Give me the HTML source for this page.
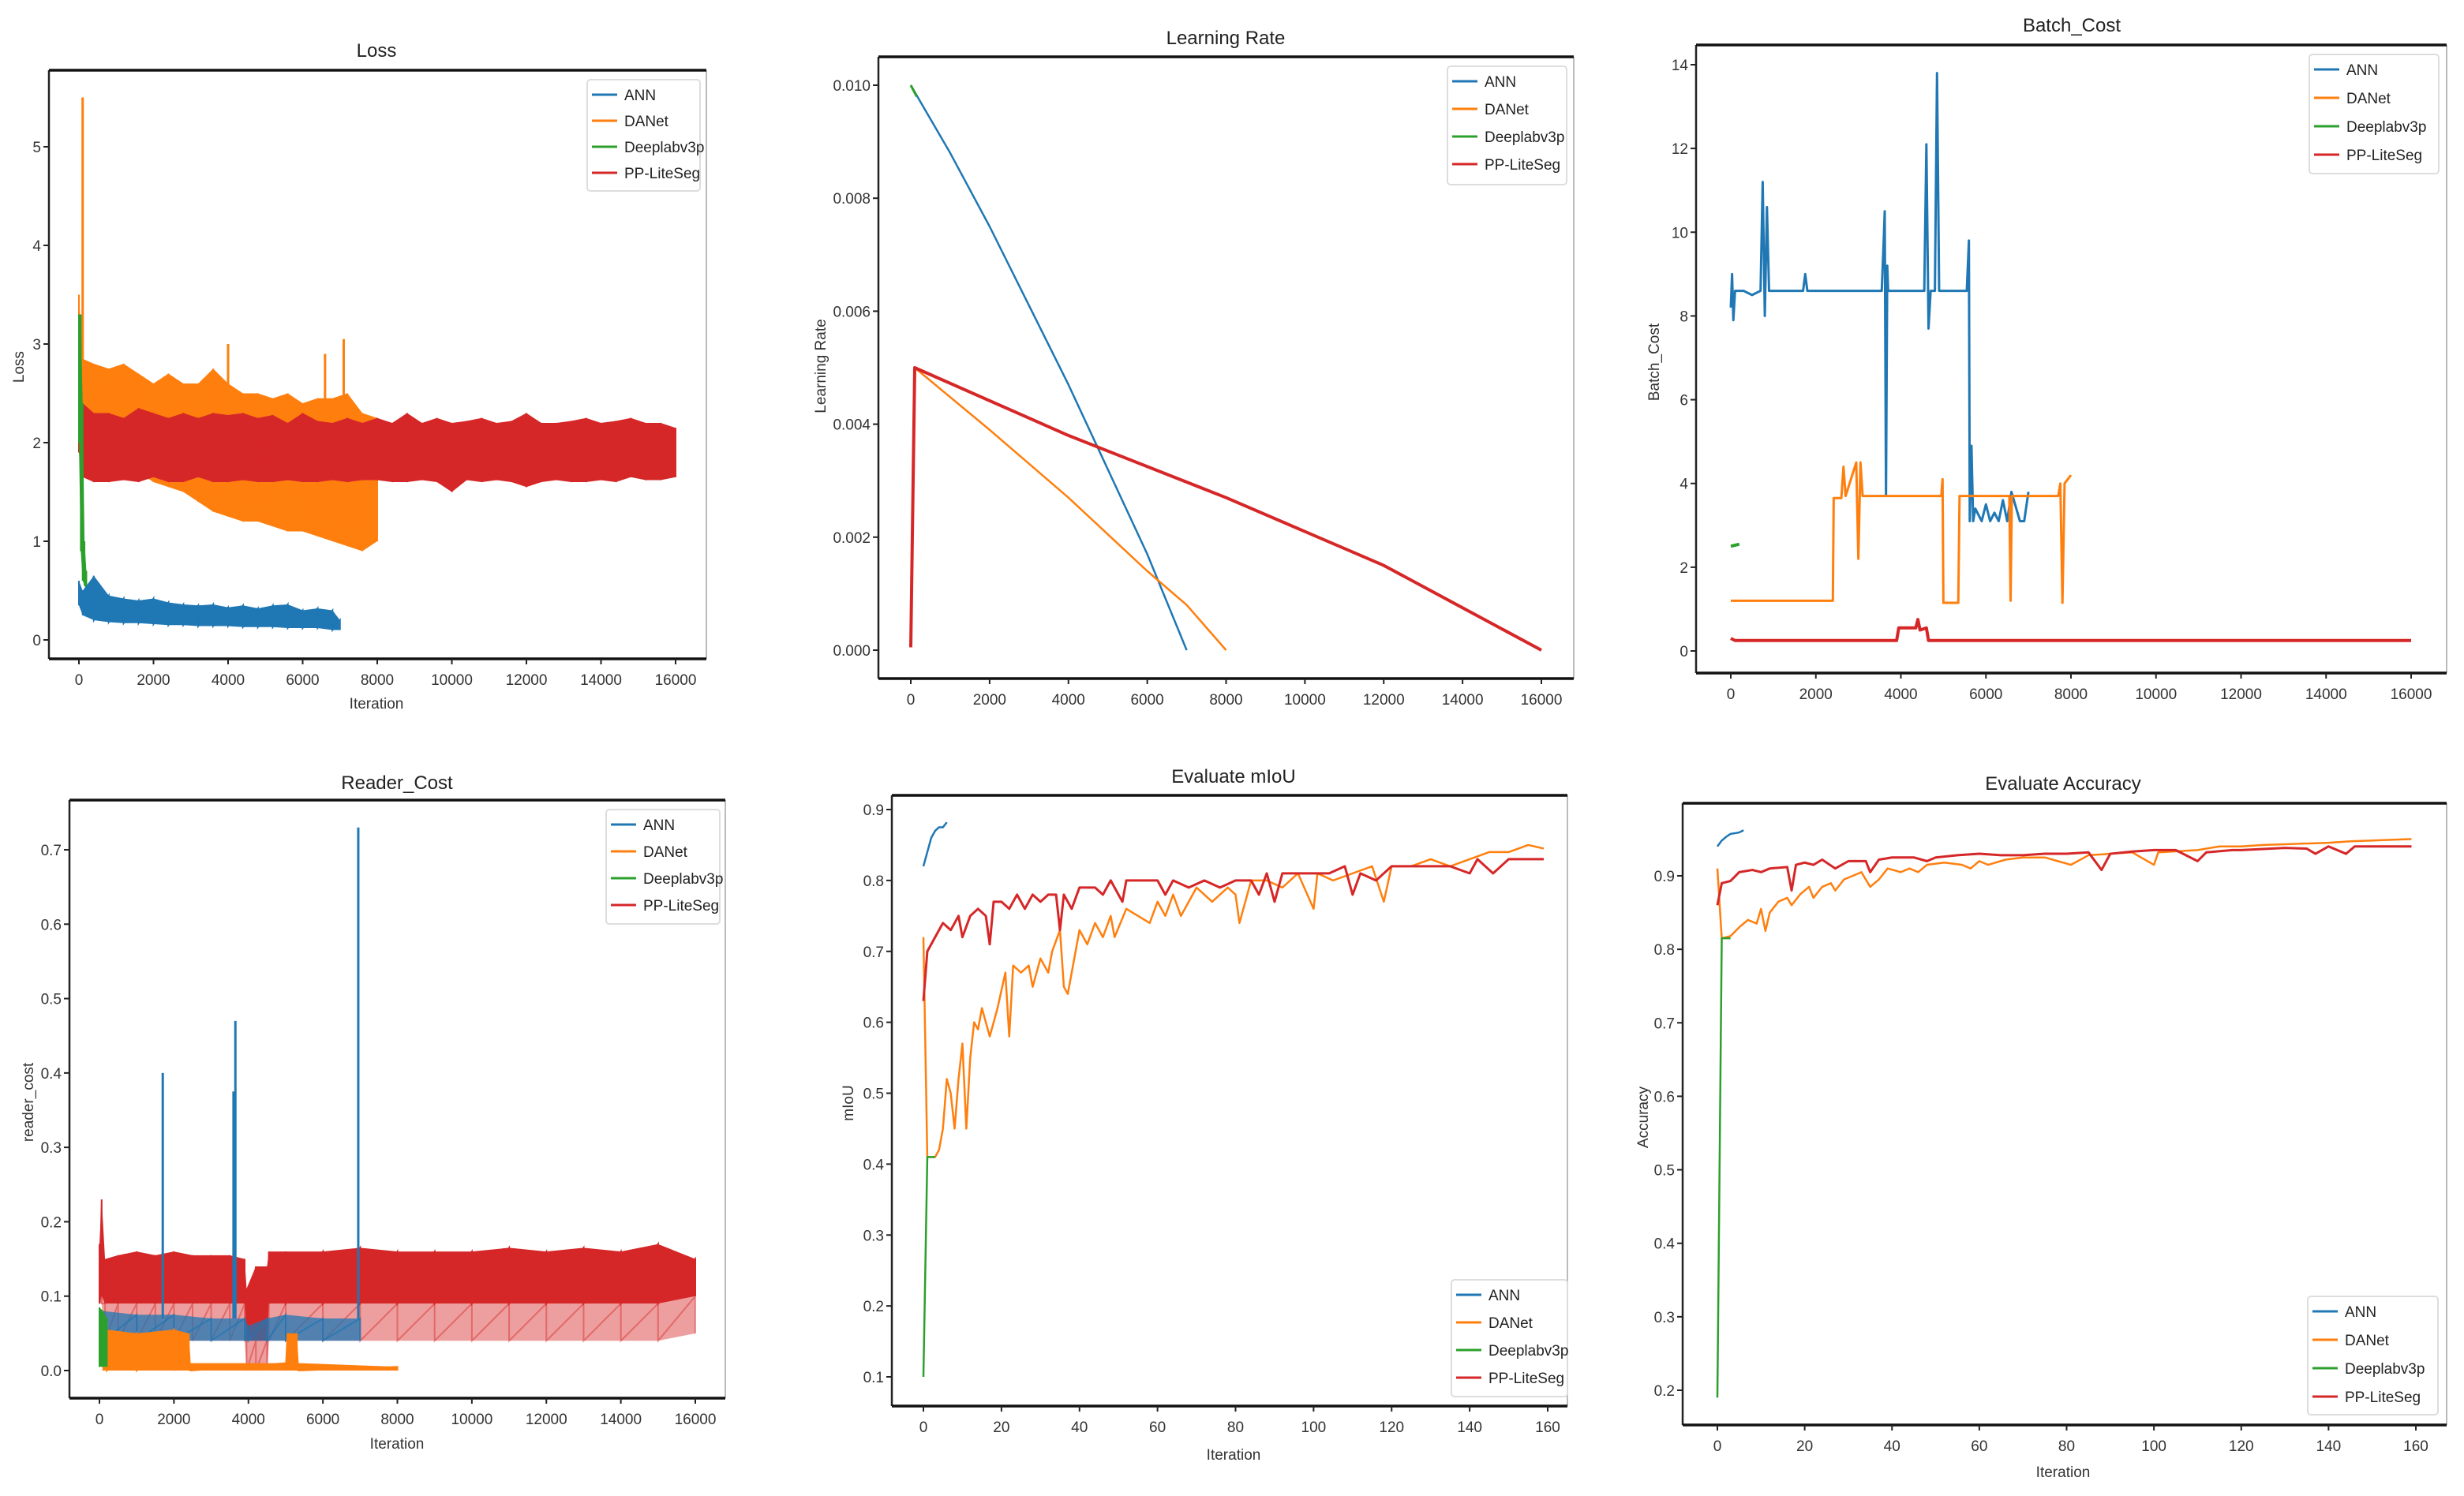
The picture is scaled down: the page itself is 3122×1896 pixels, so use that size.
<!DOCTYPE html>
<html><head><meta charset="utf-8">
<style>
html,body{margin:0;padding:0;background:#fff;}
svg{display:block;font-family:"Liberation Sans Narrow","Liberation Sans",sans-serif;}
</style></head>
<body>
<svg id="fig" xmlns="http://www.w3.org/2000/svg" width="3122" height="1896" viewBox="0 0 3122 1896">
<rect x="0" y="0" width="3122" height="1896" fill="#fff"/>
</svg>
<script>
// ---------- Data ----------
const seriesNames = ["ANN","DANet","Deeplabv3p","PP-LiteSeg"];
const iterTicks = [0,2000,4000,6000,8000,10000,12000,14000,16000];
const iterTickLabels = ["0","2000","4000","6000","8000","10000","12000","14000","16000"];
const evalTicks = [0,20,40,60,80,100,120,140,160];
const evalTickLabels = ["0","20","40","60","80","100","120","140","160"];

// Loss
const lossTicks = [0,1,2,3,4,5];
const lossTickLabels = ["0","1","2","3","4","5"];
const lossRedX = [0,100,400,800,1200,1600,2000,2400,2800,3200,3600,4000,4400,4800,5200,5600,6000,6400,6800,7200,7600,8000,8400,8800,9200,9600,10000,10400,10800,11200,11600,12000,12400,12800,13200,13600,14000,14400,14800,15200,15600,16000];
const lossRedHi = [2.85,2.4,2.3,2.3,2.25,2.35,2.3,2.25,2.3,2.25,2.3,2.28,2.3,2.25,2.28,2.2,2.3,2.22,2.2,2.25,2.2,2.25,2.2,2.3,2.2,2.25,2.2,2.22,2.25,2.2,2.22,2.3,2.2,2.2,2.22,2.25,2.2,2.22,2.25,2.2,2.2,2.15];
const lossRedLo = [1.9,1.65,1.6,1.6,1.62,1.6,1.65,1.6,1.6,1.65,1.6,1.6,1.62,1.6,1.6,1.62,1.6,1.6,1.62,1.6,1.62,1.62,1.6,1.6,1.62,1.6,1.5,1.62,1.6,1.62,1.6,1.55,1.6,1.62,1.6,1.6,1.62,1.6,1.65,1.62,1.62,1.65];
const lossOrgX = [0,100,400,800,1200,1600,2000,2400,2800,3200,3600,4000,4400,4800,5200,5600,6000,6400,6800,7200,7600,8000];
const lossOrgHi = [3.5,2.85,2.8,2.75,2.8,2.7,2.6,2.7,2.6,2.6,2.75,2.6,2.5,2.5,2.45,2.5,2.4,2.45,2.45,2.5,2.3,2.25];
const lossOrgLo = [2.0,1.8,1.75,1.75,1.75,1.7,1.6,1.55,1.5,1.4,1.3,1.25,1.2,1.2,1.15,1.1,1.1,1.05,1.0,0.95,0.9,1.0];
const lossOrgSpikeX = [100,4000,6600,7100];
const lossOrgSpikeY = [5.5,3.0,2.9,3.05];
const lossGrnX = [0,50,100,150,200];
const lossGrnHi = [3.3,3.3,2.4,1.0,0.7];
const lossGrnLo = [2.0,0.9,0.6,0.55,0.5];
const lossBluX = [0,100,400,800,1200,1600,2000,2400,2800,3200,3600,4000,4400,4800,5200,5600,6000,6400,6800,7000];
const lossBluHi = [0.6,0.5,0.65,0.45,0.42,0.4,0.42,0.38,0.36,0.35,0.36,0.33,0.35,0.32,0.35,0.36,0.3,0.32,0.3,0.2];
const lossBluLo = [0.35,0.25,0.2,0.18,0.17,0.17,0.16,0.15,0.15,0.14,0.14,0.14,0.13,0.13,0.13,0.12,0.12,0.12,0.1,0.1];

// Learning rate
const lrTicks = [0,0.002,0.004,0.006,0.008,0.010];
const lrTickLabels = ["0.000","0.002","0.004","0.006","0.008","0.010"];
const lrBluX = [0,1000,2000,3000,4000,5000,6000,7000];
const lrBluY = [0.01,0.0088,0.0075,0.0061,0.0047,0.0032,0.0017,0];
const lrOrgX = [100,2000,4000,6000,7000,8000];
const lrOrgY = [0.005,0.0039,0.0027,0.0014,0.0008,0];
const lrGrnX = [0,150];
const lrGrnY = [0.01,0.0098];
const lrRedX = [0,100,4000,8000,12000,16000];
const lrRedY = [0.00005,0.005,0.0038,0.0027,0.0015,0];

// Batch cost
const bcTicks = [0,2,4,6,8,10,12,14];
const bcTickLabels = ["0","2","4","6","8","10","12","14"];
const bcBluX = [0,30,60,100,300,500,700,750,800,850,900,1000,1700,1750,1800,3550,3600,3620,3650,3680,3700,3750,4550,4600,4650,4700,4800,4850,4900,5550,5600,5620,5660,5700,5750,5900,6000,6100,6200,6300,6400,6500,6600,6800,6900,7000];
const bcBluY = [8.2,9.0,7.9,8.6,8.6,8.5,8.6,11.2,8.0,10.6,8.6,8.6,8.6,9.0,8.6,8.6,9.9,10.5,3.7,9.2,8.6,8.6,8.6,12.1,7.7,8.6,8.6,13.8,8.6,8.6,9.8,3.1,4.9,3.1,3.4,3.1,3.5,3.1,3.3,3.1,3.6,3.1,3.8,3.1,3.1,3.8];
const bcOrgX = [0,2400,2420,2600,2650,2700,2950,3000,3050,3100,4950,4980,5000,5350,5380,6550,6580,6610,7700,7750,7800,7850,8000];
const bcOrgY = [1.2,1.2,3.65,3.65,4.4,3.7,4.5,2.2,4.5,3.7,3.7,4.1,1.15,1.15,3.7,3.7,1.2,3.7,3.7,4.0,1.15,4.0,4.2];
const bcGrnX = [0,200];
const bcGrnY = [2.5,2.55];
const bcRedX = [0,100,3900,3950,4350,4400,4450,4600,4650,16000];
const bcRedY = [0.3,0.25,0.25,0.55,0.55,0.75,0.5,0.55,0.25,0.25];

// Reader cost
const rcTicks = [0,0.1,0.2,0.3,0.4,0.5,0.6,0.7];
const rcTickLabels = ["0.0","0.1","0.2","0.3","0.4","0.5","0.6","0.7"];
const rcRedX = [0,60,150,500,1000,1500,2000,2500,3000,3500,3900,3950,4200,4500,4550,5000,6000,7000,8000,9000,10000,11000,12000,13000,14000,15000,16000];
const rcRedHi = [0.17,0.23,0.15,0.155,0.16,0.155,0.16,0.155,0.155,0.155,0.15,0.11,0.14,0.14,0.16,0.16,0.16,0.165,0.16,0.16,0.16,0.165,0.16,0.165,0.16,0.17,0.15];
const rcRedLo = [0.09,0.1,0.09,0.09,0.09,0.09,0.09,0.09,0.09,0.09,0.09,0.04,0.04,0.04,0.09,0.09,0.09,0.09,0.09,0.09,0.09,0.09,0.09,0.09,0.09,0.09,0.1];
const rcRedLo2 = [0.09,0.09,0.04,0.04,0.04,0.04,0.04,0.04,0.04,0.04,0.04,0.0,0.0,0.0,0.04,0.04,0.04,0.04,0.04,0.04,0.04,0.04,0.04,0.04,0.04,0.04,0.05];
const rcBluX = [100,1000,2000,3000,3900,4000,4500,5000,6000,7000];
const rcBluHi = [0.08,0.075,0.075,0.07,0.07,0.06,0.07,0.075,0.07,0.07];
const rcBluLo = [0.04,0.04,0.04,0.04,0.04,0.04,0.04,0.04,0.04,0.04];
const rcBluSpikeX = [1700,3600,3650,6950];
const rcBluSpikeY = [0.40,0.375,0.47,0.73];
const rcOrgX = [100,200,1000,2000,2400,2450,5000,5050,5300,5350,8000];
const rcOrgHi = [0.02,0.055,0.05,0.055,0.05,0.01,0.01,0.05,0.05,0.01,0.005];
const rcOrgLo = [0,0,0,0,0,0,0,0,0,0,0];
const rcGrnX = [0,100,200];
const rcGrnHi = [0.085,0.08,0.07];
const rcGrnLo = [0.005,0.005,0.005];

// mIoU
const miouTicks = [0.1,0.2,0.3,0.4,0.5,0.6,0.7,0.8,0.9];
const miouTickLabels = ["0.1","0.2","0.3","0.4","0.5","0.6","0.7","0.8","0.9"];
const miouBluX = [0,1,2,3,4,5,6];
const miouBluY = [0.82,0.84,0.86,0.87,0.875,0.875,0.882];
const miouGrnX = [0,1,2,3];
const miouGrnY = [0.10,0.41,0.41,0.41];
const miouOrgX = [0,1,3,4,5,6,7,8,9,10,11,12,13,14,15,17,19,21,22,23,25,27,28,30,32,33,35,36,37,38,40,42,44,46,48,49,52,55,58,60,62,64,66,70,74,78,80,81,84,88,92,96,100,101,105,110,115,118,120,125,130,135,140,145,150,155,159];
const miouOrgY = [0.72,0.41,0.41,0.42,0.45,0.52,0.50,0.45,0.52,0.57,0.45,0.55,0.60,0.59,0.62,0.58,0.62,0.67,0.58,0.68,0.67,0.68,0.65,0.69,0.67,0.70,0.73,0.65,0.64,0.67,0.73,0.71,0.74,0.72,0.75,0.72,0.76,0.75,0.74,0.77,0.75,0.78,0.75,0.79,0.77,0.79,0.78,0.74,0.80,0.80,0.79,0.81,0.76,0.81,0.80,0.81,0.82,0.77,0.82,0.82,0.83,0.82,0.83,0.84,0.84,0.85,0.845];
const miouRedX = [0,1,3,5,7,9,10,12,14,16,17,18,20,22,24,26,28,30,32,34,35,36,38,40,44,46,48,50,51,52,56,60,62,64,68,72,76,80,84,86,88,90,92,96,100,104,108,110,112,116,120,126,130,135,140,142,146,150,155,159];
const miouRedY = [0.63,0.70,0.72,0.74,0.73,0.75,0.72,0.75,0.76,0.75,0.71,0.77,0.77,0.76,0.78,0.76,0.78,0.77,0.78,0.78,0.73,0.78,0.76,0.79,0.79,0.78,0.80,0.78,0.77,0.80,0.80,0.80,0.78,0.80,0.79,0.80,0.79,0.80,0.80,0.78,0.81,0.77,0.81,0.81,0.81,0.81,0.82,0.78,0.81,0.80,0.82,0.82,0.82,0.82,0.81,0.83,0.81,0.83,0.83,0.83];

// Accuracy
const accTicks = [0.2,0.3,0.4,0.5,0.6,0.7,0.8,0.9];
const accTickLabels = ["0.2","0.3","0.4","0.5","0.6","0.7","0.8","0.9"];
const accBluX = [0,1,2,3,4,5,6];
const accBluY = [0.94,0.948,0.953,0.957,0.958,0.959,0.962];
const accGrnX = [0,1,2,3];
const accGrnY = [0.19,0.815,0.815,0.815];
const accOrgX = [0,1,3,5,7,9,10,11,12,14,16,17,19,21,22,24,26,27,29,31,33,35,37,39,42,44,46,48,52,56,58,60,62,66,70,75,78,81,85,90,95,100,101,110,115,120,125,130,140,145,150,159];
const accOrgY = [0.91,0.815,0.818,0.83,0.84,0.835,0.855,0.825,0.85,0.865,0.87,0.86,0.875,0.885,0.87,0.885,0.89,0.88,0.895,0.90,0.905,0.885,0.895,0.91,0.905,0.91,0.905,0.915,0.918,0.915,0.91,0.92,0.915,0.922,0.925,0.925,0.92,0.915,0.928,0.93,0.932,0.915,0.932,0.935,0.94,0.94,0.942,0.943,0.945,0.947,0.948,0.95];
const accRedX = [0,1,3,5,8,10,12,16,17,18,20,22,24,27,30,34,35,37,40,45,48,50,55,60,65,70,75,80,85,88,90,95,100,105,110,112,118,120,130,135,137,140,144,146,150,159];
const accRedY = [0.86,0.89,0.893,0.905,0.908,0.905,0.91,0.912,0.88,0.915,0.918,0.915,0.922,0.91,0.92,0.92,0.905,0.922,0.925,0.925,0.92,0.925,0.928,0.93,0.928,0.928,0.93,0.93,0.932,0.908,0.93,0.933,0.935,0.935,0.92,0.932,0.935,0.935,0.938,0.937,0.93,0.94,0.93,0.94,0.94,0.94];

// ---------- Rendering ----------
const C = {blue:"#1f77b4", orange:"#ff7f0e", green:"#2ca02c", red:"#d62728"};
const NS = "http://www.w3.org/2000/svg";
const svg = document.getElementById("fig");
function el(tag, attrs, parent){
  const e = document.createElementNS(NS, tag);
  for (const k in attrs) e.setAttribute(k, attrs[k]);
  (parent||svg).appendChild(e);
  return e;
}
function makePanel(cfg){
  const g = el("g", {});
  
  
  const [L,T,R,B] = cfg.frame;
  const sx = v => cfg.xp[0] + (v - cfg.xv[0])/(cfg.xv[1]-cfg.xv[0])*(cfg.xp[1]-cfg.xp[0]);
  const sy = v => cfg.yp[0] + (v - cfg.yv[0])/(cfg.yv[1]-cfg.yv[0])*(cfg.yp[1]-cfg.yp[0]);
  const cid = "clip-" + cfg.name;
  const cp = el("clipPath", {id:cid}, g);
  el("rect", {x:L, y:T, width:R-L, height:B-T}, cp);
  const plot = el("g", {"clip-path":"url(#"+cid+")"}, g);
  
  
  cfg.sx = sx; cfg.sy = sy; cfg.plot = plot;
  cfg.draw(cfg);
  // frame
  el("line", {x1:R, y1:T, x2:R, y2:B, stroke:"#bbb", "stroke-width":2}, g);
  el("line", {x1:L, y1:T, x2:L, y2:B, stroke:"#222", "stroke-width":2.5}, g);
  el("line", {x1:L, y1:T, x2:R, y2:T, stroke:"#111", "stroke-width":3.5}, g);
  el("line", {x1:L, y1:B, x2:R, y2:B, stroke:"#111", "stroke-width":3.5}, g);
  // x ticks
  cfg.xt.forEach((v,i)=>{
    const x = sx(v);
    el("line", {x1:x, y1:B, x2:x, y2:B+7, stroke:"#222", "stroke-width":2}, g);
    const t = el("text", {x:x, y:B+33, "text-anchor":"middle", "font-size":19, fill:"#333"}, g);
    t.textContent = cfg.xtl[i];
    
    
  });
  cfg.yt.forEach((v,i)=>{
    const y = sy(v);
    el("line", {x1:L-7, y1:y, x2:L, y2:y, stroke:"#222", "stroke-width":2}, g);
    const t = el("text", {x:L-10, y:y+7, "text-anchor":"end", "font-size":19, fill:"#333"}, g);
    t.textContent = cfg.ytl[i];
    
    
  });
  const tt = el("text", {x:cfg.title[1], y:cfg.title[2], "text-anchor":"middle", "font-size":24, fill:"#222"}, g);
  tt.textContent = cfg.title[0];
  
  
  if (cfg.ylab){
    const yl = el("text", {x:cfg.ylab[1], y:cfg.ylab[2], "text-anchor":"middle", "font-size":19, fill:"#333", transform:"rotate(-90 "+cfg.ylab[1]+" "+cfg.ylab[2]+")"}, g);
    yl.textContent = cfg.ylab[0];
    
    
  }
  if (cfg.xlab){
    const xl = el("text", {x:cfg.xlab[0], y:cfg.xlab[1], "text-anchor":"middle", "font-size":19, fill:"#333"}, g);
    xl.textContent = "Iteration";
    
    
  }
  // legend
  const [lx,ly,lw,lh,sp] = cfg.legend;
  const lg = el("g", {}, g);
  
  
  el("rect", {x:lx, y:ly, width:lw, height:lh, rx:4, fill:"#fff", "fill-opacity":0.85, stroke:"#ddd", "stroke-width":2}, lg);
  const cols = [C.blue,C.orange,C.green,C.red];
  seriesNames.forEach((n,i)=>{
    const yy = ly + 19 + i*sp;
    el("line", {x1:lx+6, y1:yy, x2:lx+38, y2:yy, stroke:cols[i], "stroke-width":3}, lg);
    const t = el("text", {x:lx+47, y:yy+7, "font-size":19, fill:"#222"}, lg);
    t.textContent = n;
    
    
  });
}
function band(cfg, xs, hi, lo, color, name, op){
  const pts = [];
  xs.forEach((x,i)=>pts.push(cfg.sx(x)+","+cfg.sy(hi[i])));
  for (let i=xs.length-1;i>=0;i--) pts.push(cfg.sx(xs[i])+","+cfg.sy(lo[i]));
  const p = el("polygon", {points:pts.join(" "), fill:color, "fill-opacity":op||1}, cfg.plot);
  
  
  const z = [];
  xs.forEach((x,i)=>{ z.push(cfg.sx(x)+","+cfg.sy(hi[i])); z.push(cfg.sx(x)+","+cfg.sy(lo[i])); });
  const zl = el("polyline", {points:z.join(" "), fill:"none", stroke:color, "stroke-width":2, "stroke-opacity":op||1}, cfg.plot);
  
  
}
function line(cfg, xs, ys, color, name, w){
  const pts = xs.map((x,i)=>cfg.sx(x)+","+cfg.sy(ys[i])).join(" ");
  const p = el("polyline", {points:pts, fill:"none", stroke:color, "stroke-width":w||2.5, "stroke-linejoin":"round"}, cfg.plot);
  
  
}
function spikes(cfg, xs, ys, base, color, name){
  xs.forEach((x,i)=>{
    const s = el("line", {x1:cfg.sx(x), y1:cfg.sy(base), x2:cfg.sx(x), y2:cfg.sy(ys[i]), stroke:color, "stroke-width":3}, cfg.plot);
    
    
  });
}

makePanel({name:"loss-chart", frame:[62,89,895,835], xp:[100,856], xv:[0,16000], yp:[811,186], yv:[0,5],
  xt:iterTicks, xtl:iterTickLabels, yt:lossTicks, ytl:lossTickLabels,
  title:["Loss",477,72], ylab:["Loss",30,465], xlab:[477,898], legend:[744,101,143,141,33],
  draw:c=>{
    band(c, lossOrgX, lossOrgHi, lossOrgLo, C.orange, "danet-loss-band");
    spikes(c, lossOrgSpikeX, lossOrgSpikeY, 2.2, C.orange, "danet-loss-spike");
    band(c, lossRedX, lossRedHi, lossRedLo, C.red, "ppliteseg-loss-band");
    band(c, lossGrnX, lossGrnHi, lossGrnLo, C.green, "deeplab-loss-band");
    band(c, lossBluX, lossBluHi, lossBluLo, C.blue, "ann-loss-band");
  }});
makePanel({name:"learning-rate-chart", frame:[1113,72,1994,860], xp:[1154,1953], xv:[0,16000], yp:[824,108], yv:[0,0.010],
  xt:iterTicks, xtl:iterTickLabels, yt:lrTicks, ytl:lrTickLabels,
  title:["Learning Rate",1553,56], ylab:["Learning Rate",1046,464], xlab:null, legend:[1834,84,151,150,35],
  draw:c=>{
    line(c, lrBluX, lrBluY, C.blue, "ann-lr-line", 2.5);
    line(c, lrOrgX, lrOrgY, C.orange, "danet-lr-line", 2.5);
    line(c, lrGrnX, lrGrnY, C.green, "deeplab-lr-line", 3);
    line(c, lrRedX, lrRedY, C.red, "ppliteseg-lr-line", 4);
  }});
makePanel({name:"batch-cost-chart", frame:[2149,57,3100,853], xp:[2193,3055], xv:[0,16000], yp:[825,82], yv:[0,14],
  xt:iterTicks, xtl:iterTickLabels, yt:bcTicks, ytl:bcTickLabels,
  title:["Batch_Cost",2625,40], ylab:["Batch_Cost",2102,459], xlab:null, legend:[2926,69,164,151,36],
  draw:c=>{
    line(c, bcBluX, bcBluY, C.blue, "ann-batch-cost-line", 3);
    line(c, bcOrgX, bcOrgY, C.orange, "danet-batch-cost-line", 3);
    line(c, bcGrnX, bcGrnY, C.green, "deeplab-batch-cost-line", 4);
    line(c, bcRedX, bcRedY, C.red, "ppliteseg-batch-cost-line", 4);
  }});
makePanel({name:"reader-cost-chart", frame:[88,1014,919,1772], xp:[126,881], xv:[0,16000], yp:[1737,1077], yv:[0,0.7],
  xt:iterTicks, xtl:iterTickLabels, yt:rcTicks, ytl:rcTickLabels,
  title:["Reader_Cost",503,1000], ylab:["reader_cost",42,1397], xlab:[503,1836], legend:[768,1026,144,145,34],
  draw:c=>{
    band(c, rcRedX, rcRedLo, rcRedLo2, C.red, "ppliteseg-reader-cost-lower", 0.45);
    band(c, rcRedX, rcRedHi, rcRedLo, C.red, "ppliteseg-reader-cost-band");
    band(c, rcBluX, rcBluHi, rcBluLo, C.blue, "ann-reader-cost-band", 0.75);
    spikes(c, rcBluSpikeX, rcBluSpikeY, 0.07, C.blue, "ann-reader-cost-spike");
    band(c, rcOrgX, rcOrgHi, rcOrgLo, C.orange, "danet-reader-cost-band");
    band(c, rcGrnX, rcGrnHi, rcGrnLo, C.green, "deeplab-reader-cost-band");
  }});
makePanel({name:"miou-chart", frame:[1130,1008,1986,1782], xp:[1170,1961], xv:[0,160], yp:[1745,1026], yv:[0.1,0.9],
  xt:evalTicks, xtl:evalTickLabels, yt:miouTicks, ytl:miouTickLabels,
  title:["Evaluate mIoU",1563,992], ylab:["mIoU",1081,1398], xlab:[1563,1850], legend:[1839,1622,147,148,35],
  draw:c=>{
    line(c, miouOrgX, miouOrgY, C.orange, "danet-miou-line", 2.5);
    line(c, miouRedX, miouRedY, C.red, "ppliteseg-miou-line", 3);
    line(c, miouGrnX, miouGrnY, C.green, "deeplab-miou-line", 2.5);
    line(c, miouBluX, miouBluY, C.blue, "ann-miou-line", 2.5);
  }});
makePanel({name:"accuracy-chart", frame:[2132,1018,3100,1806], xp:[2176,3061], xv:[0,160], yp:[1762,1110], yv:[0.2,0.9],
  xt:evalTicks, xtl:evalTickLabels, yt:accTicks, ytl:accTickLabels,
  title:["Evaluate Accuracy",2614,1001], ylab:["Accuracy",2088,1416], xlab:[2614,1872], legend:[2924,1643,165,150,36],
  draw:c=>{
    line(c, accOrgX, accOrgY, C.orange, "danet-accuracy-line", 2.5);
    line(c, accRedX, accRedY, C.red, "ppliteseg-accuracy-line", 3);
    line(c, accGrnX, accGrnY, C.green, "deeplab-accuracy-line", 2.5);
    line(c, accBluX, accBluY, C.blue, "ann-accuracy-line", 2.5);
  }});
</script>
</body></html>
